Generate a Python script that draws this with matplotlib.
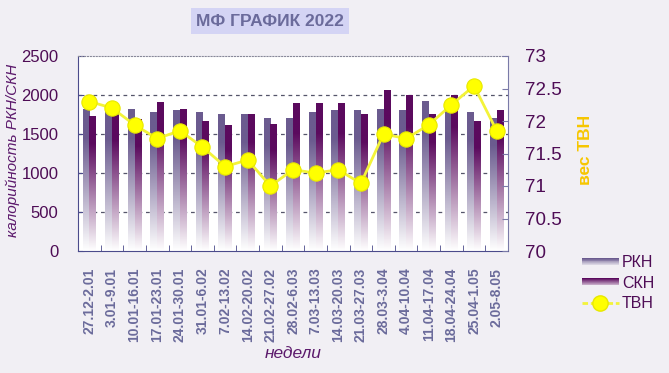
import numpy as np
import matplotlib
matplotlib.use("Agg")
import matplotlib.pyplot as plt
from matplotlib.colors import LinearSegmentedColormap
from matplotlib.patches import Rectangle
from matplotlib.lines import Line2D
from matplotlib.legend_handler import HandlerBase

plt.rcParams['font.family'] = ['Liberation Sans', 'DejaVu Sans']

weeks = ['27.12-2.01', '3.01-9.01', '10.01-16.01', '17.01-23.01', '24.01-30.01',
         '31.01-6.02', '7.02-13.02', '14.02-20.02', '21.02-27.02', '28.02-6.03',
         '7.03-13.03', '14.03-20.03', '21.03-27.03', '28.03-3.04', '4.04-10.04',
         '11.04-17.04', '18.04-24.04', '25.04-1.05', '2.05-8.05']
rkn = [1817, 1790, 1810, 1782, 1795, 1782, 1744, 1744, 1697, 1697,
       1774, 1795, 1795, 1817, 1795, 1923, 1800, 1774, 1705]
skn = [1730, 1770, 1690, 1910, 1812, 1654, 1615, 1756, 1628, 1897,
       1885, 1897, 1744, 2064, 2000, 1744, 1990, 1660, 1795]
tvn = [72.30, 72.20, 71.94, 71.73, 71.85, 71.60, 71.30, 71.40, 71.00, 71.25,
       71.20, 71.25, 71.04, 71.80, 71.73, 71.94, 72.25, 72.54, 71.85]

bg = '#f1eff4'
c_rkn = '#6b5b8f'
c_skn = '#5b0a5e'
txt = '#4e0c55'
tick_c = '#6b6b9b'

def grad_cmap(c):
    return LinearSegmentedColormap.from_list('g', ['#ffffff', c])

fig = plt.figure(figsize=(6.69, 3.73), dpi=100, facecolor=bg)
ax = fig.add_axes([78/669, 1-251/373, 430/669, 195/373])
ax.set_facecolor('white')

w = 0.3
ramp = np.clip(np.linspace(0, 1, 200) * 1.25, 0, 1).reshape(-1, 1)
for i in range(len(weeks)):
    for val, off, col in [(rkn[i], -w/2, c_rkn), (skn[i], w/2, c_skn)]:
        ax.imshow(ramp, extent=(i+off-w/2, i+off+w/2, 0, val), origin='lower',
                  aspect='auto', cmap=grad_cmap(col), vmin=0, vmax=1, zorder=2)

ax.set_xlim(-0.5, len(weeks)-0.5)
ax.set_ylim(0, 2500)
ax.set_yticks([0, 500, 1000, 1500, 2000, 2500])
for yv in [500, 1000, 1500, 2000]:
    ax.axhline(yv, color='#55556a', lw=0.9, ls=(0, (3, 3)), zorder=1)

ax.set_xticks(range(len(weeks)))
ax.set_xticklabels(weeks, rotation=90, fontsize=10, fontweight='bold', color=tick_c, va='top')
ax.set_xticks(np.arange(0.5, len(weeks)-0.5, 1), minor=True)
ax.tick_params(axis='x', which='major', length=0, pad=12)
ax.tick_params(axis='x', which='minor', length=4, direction='in', color='#4b4b8b')
ax.tick_params(axis='y', length=4, direction='in', color='#4b4b8b', labelsize=12,
               labelcolor=txt, pad=14)
for s in ['left', 'bottom']:
    ax.spines[s].set_color('#4b4b8b')
ax.spines['right'].set_color('#7a7aa8')
ax.spines['top'].set_color('#888899')
ax.spines['top'].set_linestyle(':')

ax2 = ax.twinx()
ax2.plot(range(len(weeks)), tvn, color='#f3f33a', lw=2, marker='o', ms=11,
         mfc='#ffff00', mec='#e8e800', mew=0.8, zorder=5)
ax2.set_ylim(70, 73)
ax2.set_yticks([70, 70.5, 71, 71.5, 72, 72.5, 73])
ax2.set_yticklabels(['70', '70.5', '71', '71.5', '72', '72.5', '73'])
ax2.tick_params(axis='y', length=4, direction='in', color='#7a7aa8', labelsize=13.5,
                labelcolor=txt, pad=12)
for s in ax2.spines.values():
    s.set_visible(False)

fig.text(13/669, 1-150/373, 'калорийность РКН/СКН', rotation=90, fontsize=11,
         style='italic', color='#5c1a6c', ha='center', va='center')
fig.text(585/669, 1-150/373, 'вес ТВН', rotation=90, fontsize=12.5,
         fontweight='bold', color='#f7c600', ha='center', va='center')
fig.text(293/669, 1-353/373, 'недели', fontsize=12.5, style='italic',
         color='#5c1a6c', ha='center', va='center')
fig.text(270/669, 1-21/373, 'МФ ГРАФИК 2022', fontsize=12.5, fontweight='bold',
         color=tick_c, ha='center', va='center',
         family=['Liberation Sans Narrow', 'Liberation Sans', 'DejaVu Sans'],
         bbox=dict(boxstyle='square,pad=0.3', fc='#d4d4f4', ec='none'))


# gradient strip for the bar entries of the legend
class GradHandler(HandlerBase):
    def __init__(self, col):
        super().__init__()
        self.col = col

    def create_artists(self, legend, orig, xd, yd, width, height, fontsize, trans):
        arts = []
        n = 8
        cm = grad_cmap(self.col)
        hh = height * 0.6
        y0 = -yd + (height - hh) / 2
        for k in range(n):
            r = Rectangle((-xd, y0 + hh*k/n), width, hh/n + 0.2,
                          fc=cm(0.15 + 0.85*(k+1)/n), ec='none', transform=trans)
            arts.append(r)
        return arts


h_rkn = Rectangle((0, 0), 1, 1)
h_skn = Rectangle((0, 0), 1, 1)
h_tvn = Line2D([], [], color='#f3f33a', lw=2, ls=(0, (2, 1)), marker='o', ms=11,
               mfc='#ffff00', mec='#e8e800')
fig.legend([h_rkn, h_skn, h_tvn], ['РКН', 'СКН', 'ТВН'],
           handler_map={h_rkn: GradHandler(c_rkn), h_skn: GradHandler(c_skn)},
           loc='upper left', bbox_to_anchor=(582/669, 1-255/373), frameon=False,
           fontsize=11.5, labelcolor=txt, handlelength=2.3, handletextpad=0.2,
           labelspacing=0.35, borderpad=0, borderaxespad=0)

fig.savefig('out.png', dpi=100, facecolor=bg)
